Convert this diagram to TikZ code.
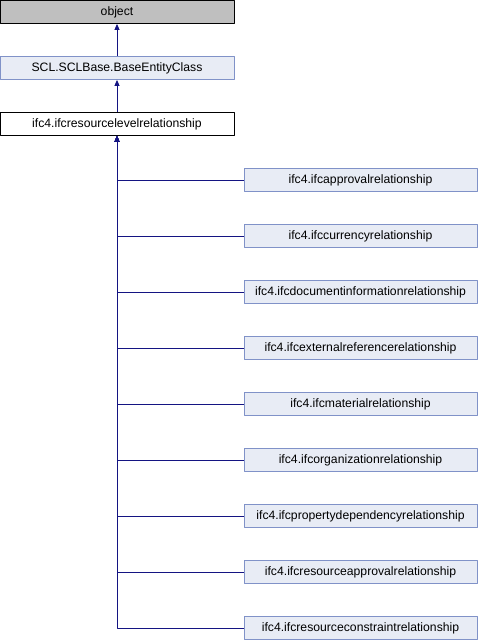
\documentclass[tikz,border=0pt]{standalone}
\usepackage{fontspec}
\setmainfont{Liberation Sans}
\usetikzlibrary{arrows.meta}
\definecolor{edgeblue}{RGB}{20,20,130}
\definecolor{boxblue}{RGB}{232,236,245}
\definecolor{lineblue}{RGB}{128,146,200}
\definecolor{boxgray}{RGB}{191,191,191}
\tikzset{
  cls/.style={draw=black, line width=0.8pt, minimum width=234pt, minimum height=23pt, inner sep=0pt, font=\fontsize{12.2}{14}\selectfont},
  bluecls/.style={cls, draw=lineblue, fill=boxblue},
  inherit/.style={draw=edgeblue, line width=0.8pt, -{Triangle[length=6pt,width=5pt]}}
}
\begin{document}
\begin{tikzpicture}[x=1pt, y=-1pt, line join=round]
		\useasboundingbox (0,0) rectangle (478,640);
		\node[cls, fill=boxgray] (object) at (117,12) {object};
		\node[bluecls] (base) at (117,68) {SCL.SCLBase.BaseEntityClass};
		\node[cls, fill=white] (level) at (117,124) {ifc4.ifcresourcelevelrelationship};
		\draw[inherit] (base) -- (object);
		\draw[inherit] (level) -- (base);
		\foreach \name/\txt [count=\i from 0] in {approval/ifc4.ifcapprovalrelationship, currency/ifc4.ifccurrencyrelationship, docinfo/ifc4.ifcdocumentinformationrelationship, extref/ifc4.ifcexternalreferencerelationship, material/ifc4.ifcmaterialrelationship, organization/ifc4.ifcorganizationrelationship, propdep/ifc4.ifcpropertydependencyrelationship, resapproval/ifc4.ifcresourceapprovalrelationship, resconstraint/ifc4.ifcresourceconstraintrelationship}{
			\node[bluecls, minimum width=233pt] (\name) at (360.5,180+56*\i) {\txt};
			\draw[inherit] (\name.west) -| (level.south);
		}
\end{tikzpicture}
\end{document}
